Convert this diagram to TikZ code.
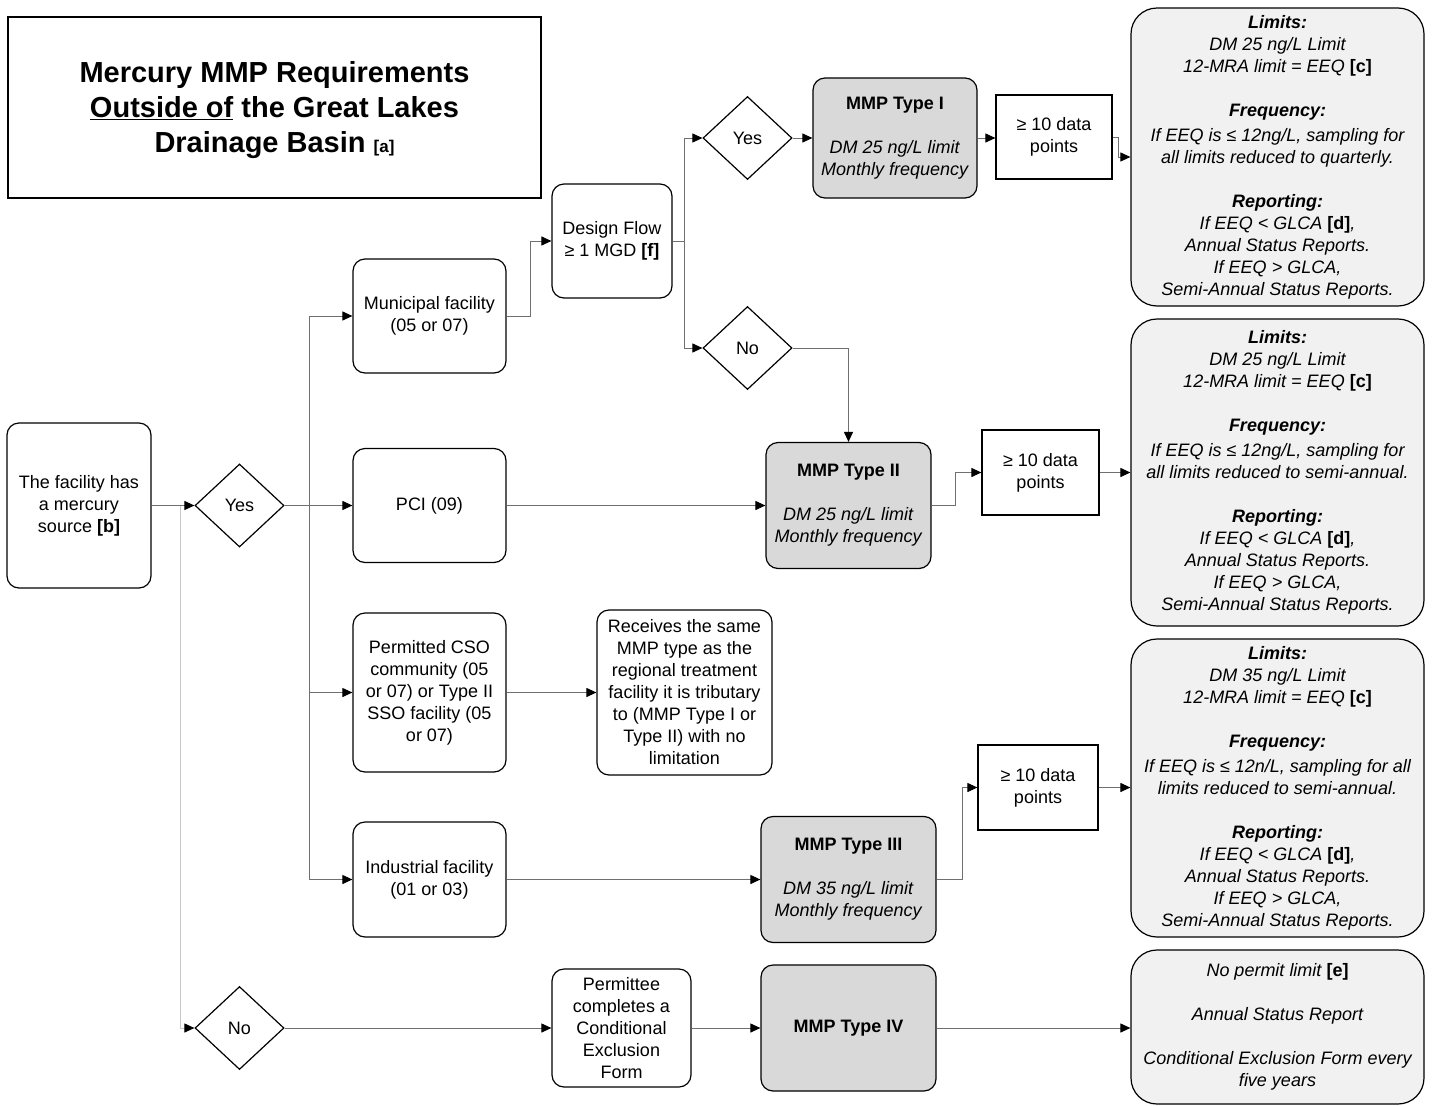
\documentclass[tikz,border=0pt]{standalone}
\usepackage{fontspec}
\setmainfont{Liberation Sans}
\usetikzlibrary{arrows.meta,shapes.geometric}
\definecolor{mmpgray}{HTML}{D9D9D9}
\definecolor{infogray}{HTML}{F1F1F1}
\definecolor{linegray}{HTML}{707070}
\definecolor{lightline}{HTML}{C8C8C8}
\newcommand{\bodyfont}{\fontsize{18}{22}\selectfont}
\tikzset{
  box/.style={draw, line width=1.2pt, rounded corners=12pt, align=center, font=\bodyfont, inner sep=2pt},
  mmpbox/.style={box, fill=mmpgray},
  infobox/.style={draw, line width=1.2pt, rounded corners=26pt, fill=infogray, align=center, font=\bodyfont\itshape, inner sep=2pt},
  dpbox/.style={draw, line width=1.2pt, align=center, font=\bodyfont, inner sep=2pt},
  dia/.style={draw, line width=1.2pt, diamond, inner sep=0pt, minimum width=89pt, minimum height=83pt, font=\bodyfont},
  conn/.style={draw=linegray, line width=1pt, -{Triangle[length=10pt,width=9pt,fill=black,color=black]}},
  connl/.style={draw=lightline, line width=1pt, -{Triangle[length=10pt,width=9pt,fill=black,color=black]}}
}
\begin{document}
\begin{tikzpicture}[x=1pt,y=-1pt]
\useasboundingbox (0,0) rectangle (1433,1106);

% title
\node[draw, line width=2.5pt, minimum width=533pt, minimum height=181pt] (title) at (274.5,107.5) {};
\node[align=center, font=\fontsize{29}{35}\selectfont\bfseries] (titletext) at (274.5,110.5)
  {Mercury MMP Requirements\\ \underline{Outside of} the Great Lakes\\ Drainage Basin {\fontsize{17}{20}\selectfont [a]}};

% left column
\node[box, minimum width=144pt, minimum height=165pt] (src) at (79,505.5)
  {The facility has\\ a mercury\\ source \textbf{[b]}};
\node[dia] (yes1) at (239.5,505.5) {Yes};
\node[dia] (no1) at (239.5,1028) {No};

\node[box, minimum width=153pt, minimum height=114pt] (mun) at (429.5,316) {Municipal facility\\(05 or 07)};
\node[box, minimum width=153pt, minimum height=114pt] (pci) at (429.5,505.5) {PCI (09)};
\node[box, minimum width=153pt, minimum height=159pt] (cso) at (429.5,692.5)
  {Permitted CSO\\community (05\\or 07) or Type II\\SSO facility (05\\or 07)};
\node[box, minimum width=153pt, minimum height=115pt] (ind) at (429.5,879.5) {Industrial facility\\(01 or 03)};

\node[box, minimum width=120pt, minimum height=114pt] (dfl) at (612,241) {Design Flow\\≥ 1 MGD \textbf{[f]}};
\node[dia] (yes2) at (747.5,138) {Yes};
\node[dia] (no2) at (747.5,348) {No};

\node[box, minimum width=175pt, minimum height=165pt] (rec) at (684.5,692.5)
  {Receives the same\\MMP type as the\\regional treatment\\facility it is tributary\\to (MMP Type I or\\Type II) with no\\limitation};
\node[box, minimum width=139pt, minimum height=118pt] (per) at (621.5,1028)
  {Permittee\\completes a\\Conditional\\Exclusion\\Form};

% MMP boxes
\node[mmpbox, minimum width=164pt, minimum height=120pt] (m1) at (895,138)
  {\textbf{MMP Type I}\\[22pt] \textit{DM 25 ng/L limit}\\ \textit{Monthly frequency}};
\node[mmpbox, minimum width=165pt, minimum height=126pt] (m2) at (848.5,505.5)
  {\textbf{MMP Type II}\\[22pt] \textit{DM 25 ng/L limit}\\ \textit{Monthly frequency}};
\node[mmpbox, minimum width=175pt, minimum height=126pt] (m3) at (848.5,879.5)
  {\textbf{MMP Type III}\\[22pt] \textit{DM 35 ng/L limit}\\ \textit{Monthly frequency}};
\node[mmpbox, minimum width=175pt, minimum height=126pt] (m4) at (848.5,1028)
  {\textbf{MMP Type IV}};

% data points
\node[dpbox, minimum width=116pt, minimum height=84pt] (dp1) at (1054,137) {≥ 10 data\\points};
\node[dpbox, minimum width=117pt, minimum height=85pt] (dp2) at (1040.5,472.5) {≥ 10 data\\points};
\node[dpbox, minimum width=120pt, minimum height=85pt] (dp3) at (1038,787.5) {≥ 10 data\\points};

% info boxes
\node[infobox, minimum width=293pt, minimum height=298pt] (lim1) at (1277.5,157)
  {\textbf{Limits:}\\ DM 25 ng/L Limit\\ 12-MRA limit = EEQ \textbf{\upshape[c]}\\[22pt]
   \textbf{Frequency:}\\[3pt] If EEQ is ≤ 12ng/L, sampling for\\ all limits reduced to quarterly.\\[22pt]
   \textbf{Reporting:}\\ If EEQ < GLCA \textbf{\upshape[d]},\\ Annual Status Reports.\\ If EEQ > GLCA,\\ Semi-Annual Status Reports.};
\node[infobox, minimum width=293pt, minimum height=307pt] (lim2) at (1277.5,472.5)
  {\textbf{Limits:}\\ DM 25 ng/L Limit\\ 12-MRA limit = EEQ \textbf{\upshape[c]}\\[22pt]
   \textbf{Frequency:}\\[3pt] If EEQ is ≤ 12ng/L, sampling for\\ all limits reduced to semi-annual.\\[22pt]
   \textbf{Reporting:}\\ If EEQ < GLCA \textbf{\upshape[d]},\\ Annual Status Reports.\\ If EEQ > GLCA,\\ Semi-Annual Status Reports.};
\node[infobox, minimum width=293pt, minimum height=298pt] (lim3) at (1277.5,788)
  {\textbf{Limits:}\\ DM 35 ng/L Limit\\ 12-MRA limit = EEQ \textbf{\upshape[c]}\\[22pt]
   \textbf{Frequency:}\\[3pt] If EEQ is ≤ 12n/L, sampling for all\\ limits reduced to semi-annual.\\[22pt]
   \textbf{Reporting:}\\ If EEQ < GLCA \textbf{\upshape[d]},\\ Annual Status Reports.\\ If EEQ > GLCA,\\ Semi-Annual Status Reports.};
\node[infobox, minimum width=293pt, minimum height=154pt] (fin) at (1277.5,1027)
  {No permit limit \textbf{\upshape[e]}\\[22pt] Annual Status Report\\[22pt] Conditional Exclusion Form every\\ five years};

% connectors
\coordinate (jl) at (180,505.5);
\coordinate (j1) at (309,505.5);
\draw[conn] (src.east) -- (yes1.west);
\draw[connl] (jl) |- (no1.west);
\draw[conn] (yes1.east) -- (pci.west);
\draw[conn] (j1) |- (mun.west);
\draw[conn] (j1) |- (cso.west);
\draw[conn] (j1) |- (ind.west);
\draw[conn] (mun.east) -- ++(24,0) |- (dfl.west);
\draw[conn] (dfl.east) -- ++(12,0) coordinate (j2) |- (yes2.west);
\draw[conn] (j2) |- (no2.west);
\draw[conn] (yes2.east) -- (m1.west);
\draw[conn] (m1.east) -- (dp1.west |- m1.east);
\draw[conn] (dp1.east) -- ++(6,0) |- (lim1.west);
\draw[conn] (no2.east) -| (m2.north);
\draw[conn] (pci.east) -- (m2.west);
\draw[conn] (m2.east) -- ++(24,0) |- (dp2.west);
\draw[conn] (dp2.east) -- (lim2.west);
\draw[conn] (cso.east) -- (rec.west);
\draw[conn] (ind.east) -- (m3.west);
\draw[conn] (m3.east) -- ++(26,0) |- (dp3.west);
\draw[conn] (dp3.east) -- (lim3.west |- dp3.east);
\draw[conn] (no1.east) -- (per.west);
\draw[conn] (per.east) -- (m4.west);
\draw[conn] (m4.east) -- (fin.west |- m4.east);
\end{tikzpicture}
\end{document}
